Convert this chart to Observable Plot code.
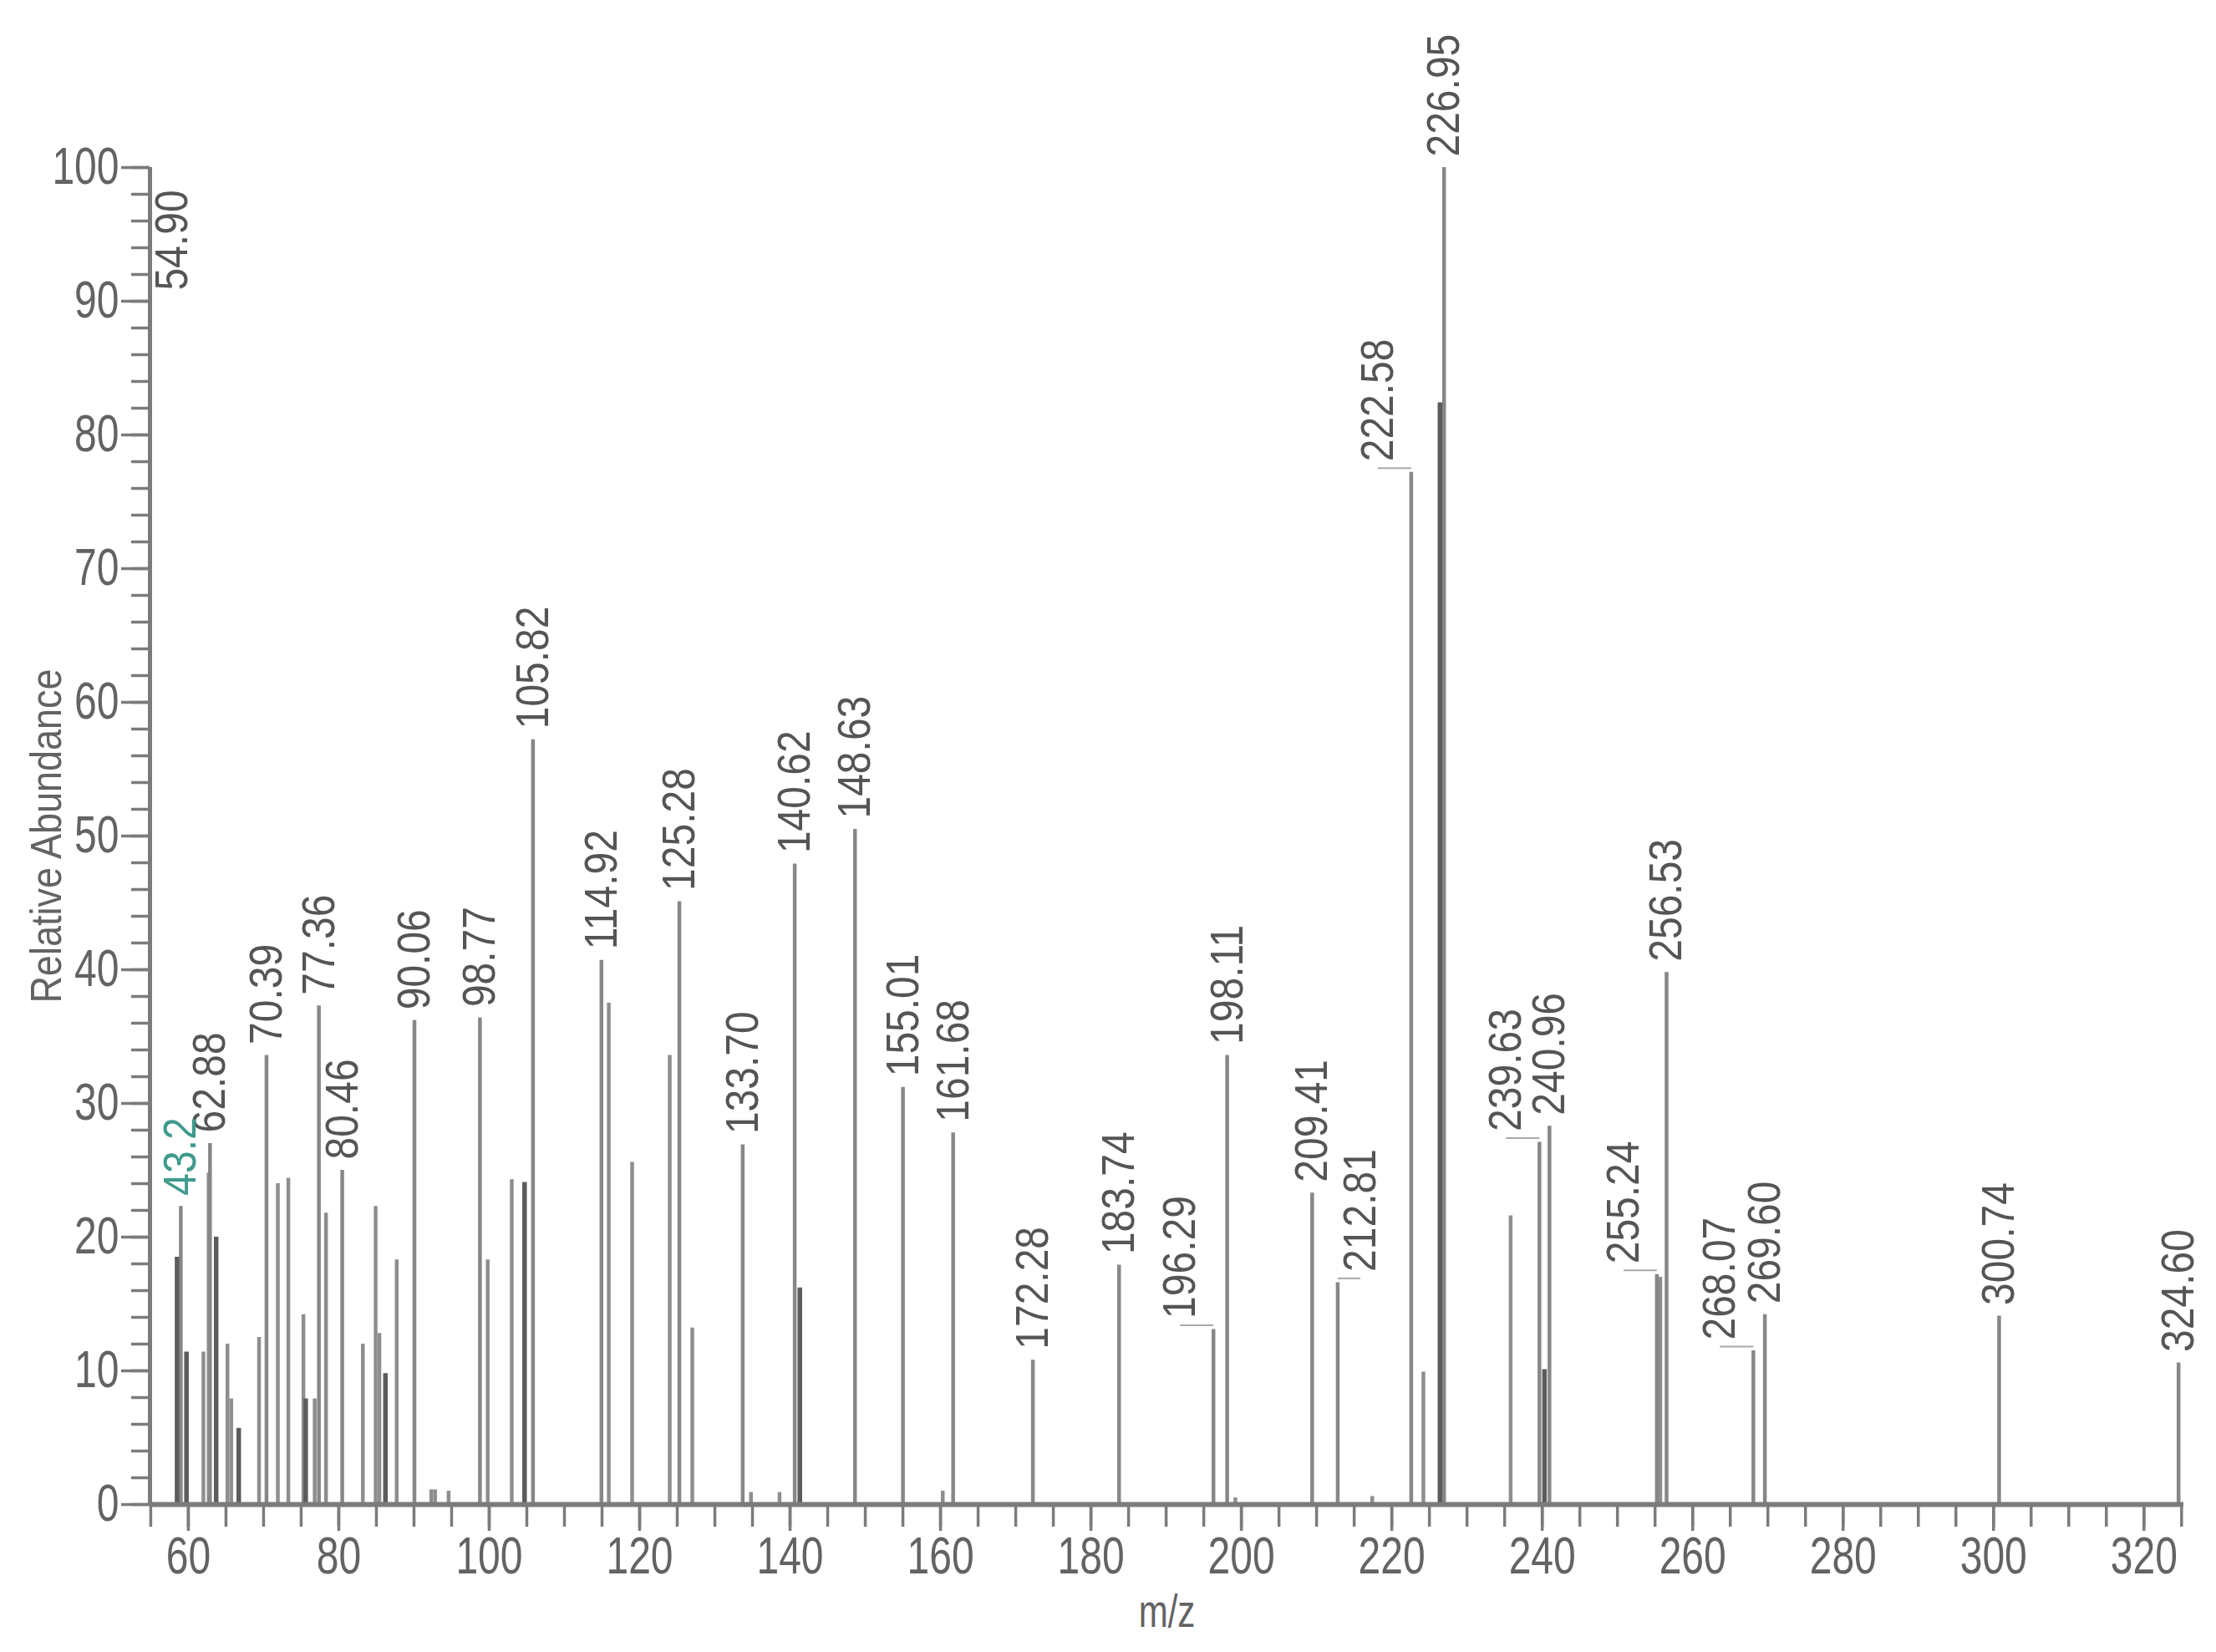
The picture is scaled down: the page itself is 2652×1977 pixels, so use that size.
<!DOCTYPE html>
<html><head><meta charset="utf-8">
<script src="https://cdn.jsdelivr.net/npm/d3@7"></script>
<script src="https://cdn.jsdelivr.net/npm/@observablehq/plot@0.6"></script>
<style>
html,body{margin:0;padding:0;background:#fff;}
</style>
</head><body><div id="chart"></div>
<script>
// ---- data ----
// labelled peaks (m/z position, relative abundance, printed label)
const peakMz        = [54.90, 59.0, 62.88, 70.39, 77.36, 80.46, 90.06, 98.77, 105.82, 114.92, 125.28, 133.70, 140.62, 148.63, 155.01, 161.68, 172.28, 183.74, 196.29, 198.11, 209.41, 212.81, 222.58, 226.95, 239.63, 240.96, 255.24, 256.53, 268.07, 269.60, 300.74, 324.60];
const peakAbundance = [90.0, 22.3, 27.0, 33.6, 37.3, 25.0, 36.2, 36.4, 57.2, 40.7, 45.1, 26.9, 47.9, 50.5, 31.2, 27.8, 10.8, 17.9, 13.1, 33.6, 23.3, 16.6, 77.2, 100.0, 27.1, 28.3, 17.2, 39.8, 11.5, 14.2, 14.1, 10.6];
const peakLabels    = ["54.90","43.2","62.88","70.39","77.36","80.46","90.06","98.77","105.82","114.92","125.28","133.70","140.62","148.63","155.01","161.68","172.28","183.74","196.29","198.11","209.41","212.81","222.58","226.95","239.63","240.96","255.24","256.53","268.07","269.60","300.74","324.60"];

// unlabelled peaks, mid grey
const greyMz        = [62.0, 62.7, 65.2, 65.7, 69.4, 71.9, 73.3, 75.3, 76.8, 78.3, 83.2, 84.9, 85.4, 87.7, 92.3, 92.8, 94.6, 99.8, 103.0, 115.9, 119.0, 124.0, 127.0, 134.8, 138.6, 160.3, 199.2, 217.4, 224.2, 235.8, 255.7];
const greyAbundance = [11.4, 24.8, 12.0, 7.9, 12.5, 24.0, 24.4, 14.2, 7.9, 21.8, 12.0, 22.3, 12.8, 18.3, 1.1, 1.1, 1.0, 18.3, 24.3, 37.5, 25.6, 33.6, 13.2, 0.9, 0.9, 1.0, 0.5, 0.6, 9.9, 21.6, 17.0];

// unlabelled peaks, darker
const darkMz        = [58.5, 59.75, 63.7, 66.7, 75.6, 86.2, 104.7, 141.3, 226.4, 240.3];
const darkAbundance = [18.5, 11.4, 20.0, 5.7, 7.9, 9.8, 24.1, 16.2, 82.4, 10.1];

// axes
const xTickValues = [60, 80, 100, 120, 140, 160, 180, 200, 220, 240, 260, 280, 300, 320];
const yTickValues = [0, 10, 20, 30, 40, 50, 60, 70, 80, 90, 100];
const xTitle = "m/z";
const yTitle = "Relative Abundance";

// labels drawn with a small leader line, offset to one side of their peak
const leaderLeft  = ["196.29", "222.58", "239.63", "255.24", "268.07"];
const leaderRight = ["54.90", "212.81"];
const tealLabels  = ["43.2"];

// ---- layout ----
const W = 2652, H = 1977;
const M = {top: 200, right: 39, bottom: 177, left: 179};
const xDomain = [54.9, 325.3];
const pxPerUnit = (W - M.left - M.right) / (xDomain[1] - xDomain[0]);

const labeled = peakMz.map((mz, i) => {
  const lab = peakLabels[i];
  const shift = leaderLeft.includes(lab) ? -40 : leaderRight.includes(lab) ? 27 : 0;
  return {mz, ab: peakAbundance[i], label: lab, lx: mz + shift / pxPerUnit, lead: shift !== 0 && lab !== "54.90"};
});
const grey = greyMz.map((mz, i) => ({mz, ab: greyAbundance[i]}));
const dark = darkMz.map((mz, i) => ({mz, ab: darkAbundance[i]}));
const xMinor = d3.range(55, 326, 5);
const yMinor = d3.range(0, 101, 2);

const font = "'Liberation Sans', Arial, sans-serif";
const axisCol = "#7b7b7b";
const textCol = "#636363";
const labelCol = "#555555";

const chart = Plot.plot({
  width: W, height: H,
  marginTop: M.top, marginRight: M.right, marginBottom: M.bottom, marginLeft: M.left,
  style: {fontFamily: font, background: "#fff", overflow: "visible"},
  x: {domain: xDomain, axis: null, label: null},
  y: {domain: [0, 100], axis: null, label: null},
  marks: [
    // peaks
    Plot.ruleX(grey, {x: "mz", y1: 0, y2: "ab", stroke: "#8e8e8e", strokeWidth: 4.5}),
    Plot.ruleX(labeled, {x: "mz", y1: 0, y2: "ab", stroke: "#878787", strokeWidth: 4.5}),
    Plot.ruleX(dark, {x: "mz", y1: 0, y2: "ab", stroke: "#5c5c5c", strokeWidth: 5.5}),
    // leader lines
    Plot.link(labeled.filter(d => d.lead), {x1: "mz", x2: "lx", y1: "ab", y2: "ab", dy: -5, stroke: "#a8a8a8", strokeWidth: 2}),
    // peak labels
    Plot.text(labeled.filter(d => !tealLabels.includes(d.label)), {
      x: "lx", y: "ab", text: "label", rotate: -90, textAnchor: "start", dy: -13,
      fontSize: 48, fill: labelCol
    }),
    Plot.text(labeled.filter(d => tealLabels.includes(d.label)), {
      x: "lx", y: "ab", text: "label", rotate: -90, textAnchor: "start", dy: -13,
      fontSize: 48, fill: "#3f9a8c"
    }),
    // axes: minor ticks
    Plot.axisX(xMinor, {tickSize: 27, tickFormat: () => "", stroke: axisCol, strokeWidth: 3.5, label: null}),
    Plot.axisY(yMinor, {tickSize: 22, tickFormat: () => "", stroke: axisCol, strokeWidth: 3.5, label: null}),
    // axes: major ticks and labels
    Plot.axisX(xTickValues, {tickSize: 32, tickPadding: 6, fontSize: 48, color: textCol, stroke: axisCol, strokeWidth: 3.5, label: null}),
    Plot.axisY(yTickValues, {tickSize: 34, tickPadding: 3, fontSize: 48, color: textCol, stroke: axisCol, strokeWidth: 3.5, label: null}),
    // axis lines
    Plot.ruleY([0], {stroke: axisCol, strokeWidth: 6}),
    Plot.ruleX([xDomain[0]], {y1: 0, y2: 100, stroke: axisCol, strokeWidth: 5}),
    // axis titles
    Plot.text([yTitle], {text: d => d, frameAnchor: "left", textAnchor: "middle", rotate: -90, dx: -123, fontSize: 45, fill: textCol}),
    Plot.text([xTitle], {text: d => d, frameAnchor: "bottom", textAnchor: "middle", dy: 146, fontSize: 42, fill: textCol})
  ]
});

// the reference uses a tall, condensed typeface: stretch the glyphs vertically
chart.querySelectorAll("text").forEach(t => {
  const tr = t.getAttribute("transform") || "";
  const k = tr.includes("rotate") ? 1.17 : 1.3;
  t.setAttribute("transform", tr + ` scale(1,${k})`);
});
document.getElementById("chart").appendChild(chart);
</script>
</body></html>
